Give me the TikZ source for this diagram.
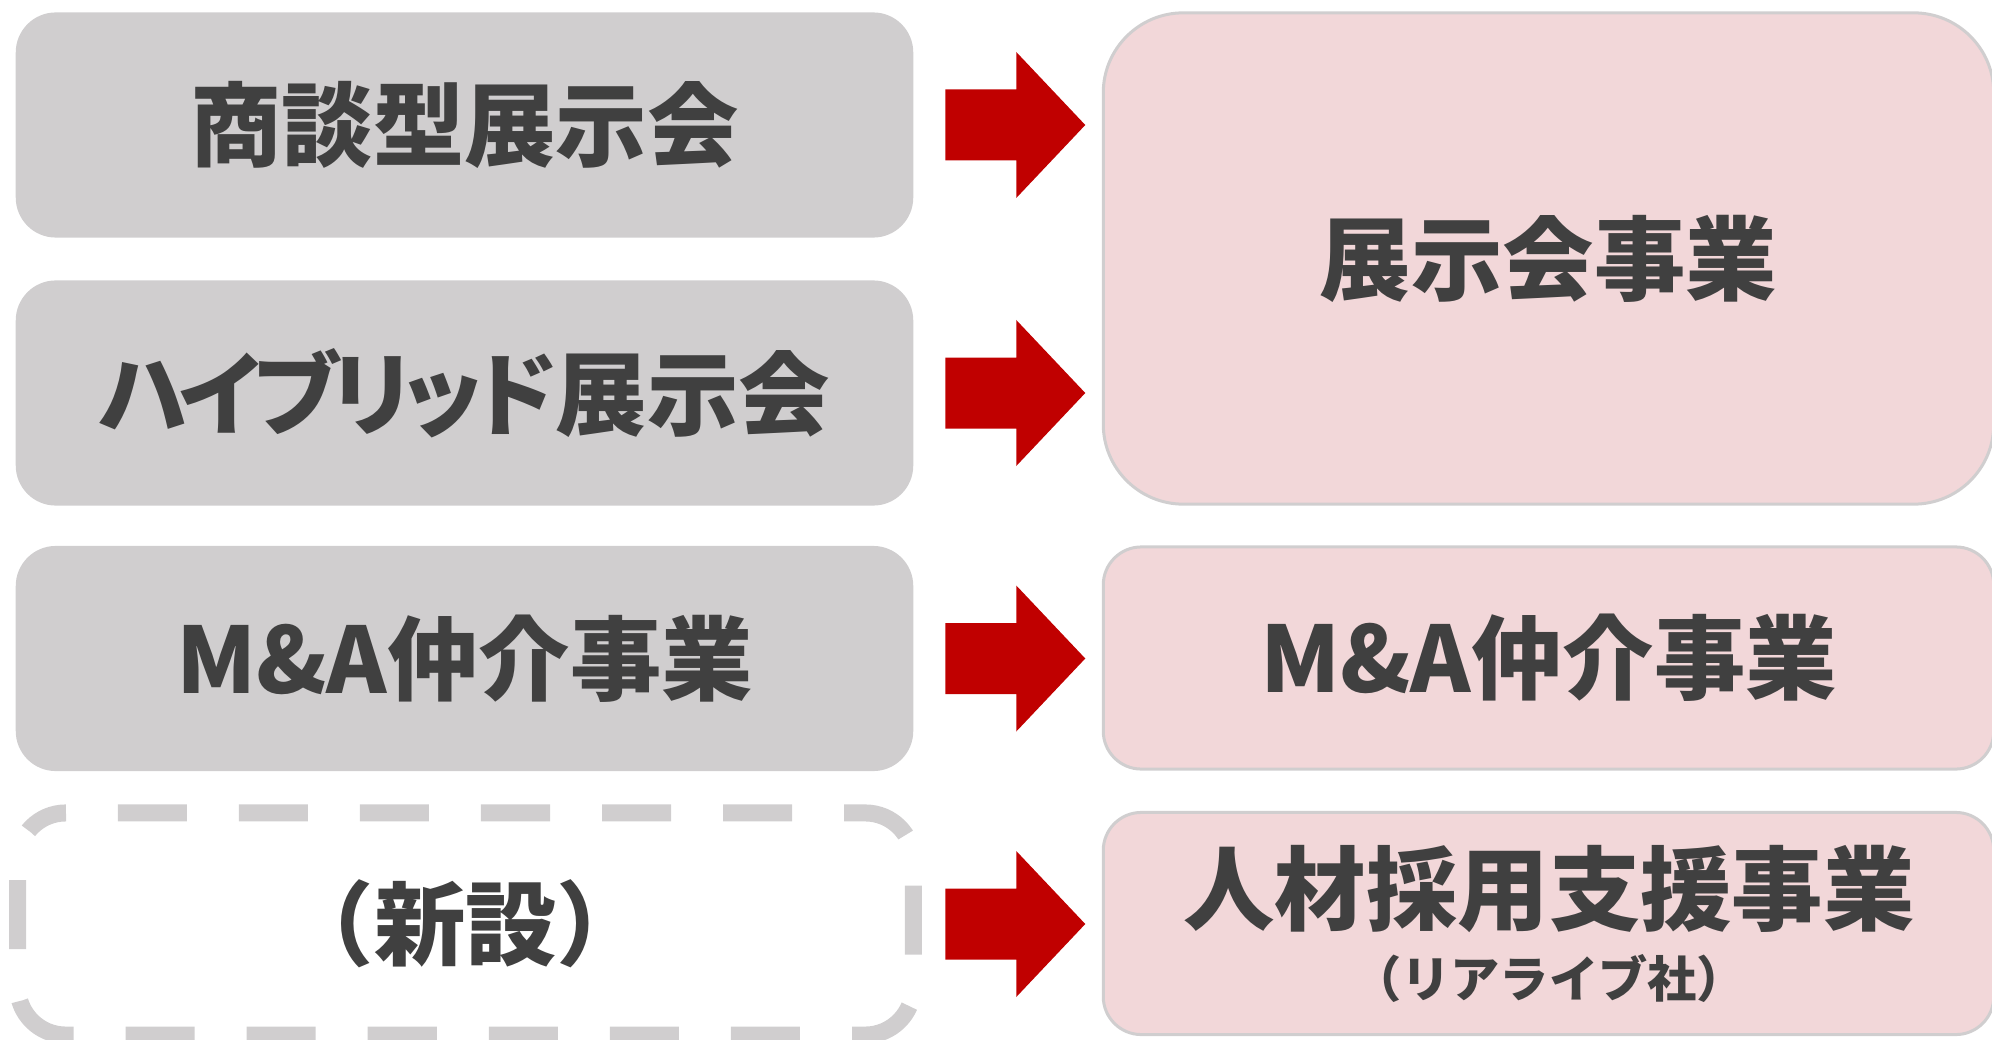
\documentclass[tikz,border=0pt]{standalone}
\usepackage{fontspec}
\setmainfont{Noto Sans CJK JP}
\newfontfamily\kanafont{Noto Sans CJK JP}[RawFeature=+palt, LetterSpace=-7]
\usepackage{xcolor}
\usetikzlibrary{calc, positioning}

\definecolor{boxgray}{HTML}{D0CECF}
\definecolor{boxpink}{HTML}{F2D7D9}
\definecolor{textgray}{HTML}{404040}
\definecolor{arrowred}{HTML}{C00000}

\tikzset{
  oldbox/.style={fill=boxgray, rounded corners=0.4cm, minimum width=8.97cm,
    minimum height=2.25cm, inner sep=0pt, outer sep=0pt},
  newbox/.style={fill=boxpink, draw=boxgray, line width=0.03cm, rounded corners=0.38cm,
    minimum width=8.9cm, minimum height=2.22cm, inner sep=0pt, outer sep=0pt},
  dashbox/.style={draw=boxgray, line width=0.17cm, rounded corners=0.48cm,
    dash pattern=on 0.69cm off 0.52cm, dash phase=0.69cm},
  bigtext/.style={text=textgray, font=\bfseries\fontsize{26}{30}\selectfont},
  smalltext/.style={text=textgray, font=\bfseries\fontsize{14}{16}\selectfont},
  redarrow/.style={fill=arrowred}
}

\begin{document}
\begin{tikzpicture}[x=0.01cm, y=-0.01cm]
\useasboundingbox (0,0) rectangle (1992,1040);

% Current businesses (left)
\node[oldbox, bigtext] (l1) at (464.5,125) {商談型展示会};
\node[oldbox, bigtext] (l2) at (464.5,393) {{\kanafont ハイブリッド}展示会};
\node[oldbox, bigtext] (l3) at (464.5,658.5) {M\&A仲介事業};
\node[oldbox, bigtext, fill=none, minimum width=8.95cm, minimum height=2.22cm] (l4) at (465.5,924) {（新設）};
% dashed frame, starting after the top left corner
\draw[dashbox] ($(l4.north west)+(48,0)$) -- (l4.north east) -- (l4.south east)
  -- (l4.south west) -- (l4.north west) -- ($(l4.north west)+(48,0)$);

% Segments (right)
\node[newbox, bigtext, rounded corners=0.8cm, minimum height=4.91cm] (r1) at (1548.5,258.5) {展示会事業};
\node[newbox, bigtext] (r2) at (1548.5,658) {M\&A仲介事業};
\node[newbox] (r3) at (1548.5,923.5) {};
\node[bigtext] (r3a) at (1549,889) {人材採用支援事業};
\node[smalltext] (r3b) at (1549,978) {（リアライブ社）};

% Block arrows
\foreach \n in {l1,l2,l3,l4}
  \fill[redarrow] ($(\n.east)+(32,-35.5)$) -- ++(71,0) -- ++(0,-37.5) -- ++(69,73)
    -- ++(-69,73) -- ++(0,-37.5) -- ++(-71,0) -- cycle;
\end{tikzpicture}
\end{document}
